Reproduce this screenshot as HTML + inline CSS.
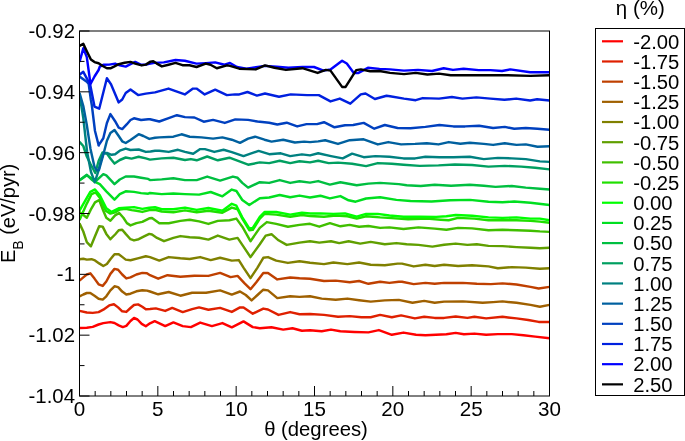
<!DOCTYPE html>
<html><head><meta charset="utf-8"><title>Binding energy vs twist angle</title>
<style>
html,body{margin:0;padding:0;background:#fff;}
svg{display:block;}
text{font-family:"Liberation Sans",Arial,Helvetica,sans-serif;fill:#000;}
.c{fill:none;stroke-width:2.45;stroke-linejoin:round;stroke-linecap:butt;}
</style></head><body>
<svg width="685" height="441" viewBox="0 0 685 441">
<rect x="0" y="0" width="685" height="441" fill="#fff"/>
<defs><clipPath id="pc"><rect x="79.5" y="31" width="470" height="365"/></clipPath></defs>
<g clip-path="url(#pc)">
<polyline class="c" stroke="#ff0000" points="79.5,328.0 86.8,327.8 92.7,326.9 98.6,324.5 103.3,323.1 110.4,322.1 114.5,323.0 118.7,325.4 122.8,327.1 126.3,325.9 130.5,321.0 134.0,318.0 137.5,319.5 141.7,323.9 145.8,326.3 150.0,323.3 154.7,321.2 165.2,326.1 173.4,322.4 182.7,326.1 190.9,327.1 200.2,322.6 211.9,326.1 222.4,323.1 231.8,327.3 243.5,321.4 252.8,327.1 259.8,328.2 271.5,327.3 283.2,329.6 292.5,328.2 301.9,330.8 310.0,330.3 321.7,331.3 331.0,329.6 340.4,331.3 354.4,332.0 368.4,332.4 378.9,330.1 391.8,334.8 403.5,332.6 416.0,334.8 425.4,335.2 446.4,334.3 455.7,332.9 463.9,334.3 474.4,333.6 486.1,334.8 497.8,334.1 511.8,334.1 523.5,335.2 535.2,336.6 549.5,338.3"/>
<polyline class="c" stroke="#df2000" points="79.5,310.9 86.8,312.5 92.7,312.9 98.6,312.1 103.3,309.7 109.2,305.4 113.9,304.2 118.1,307.4 122.2,311.3 126.3,311.9 130.5,308.0 134.0,305.0 138.1,304.4 142.3,306.8 145.8,309.2 150.0,309.0 155.8,308.4 165.2,310.9 172.2,307.9 182.7,312.1 192.1,309.1 199.1,307.4 208.4,309.8 220.1,307.9 231.8,311.9 240.0,307.4 243.5,307.4 252.8,313.7 263.3,308.6 268.0,309.5 278.5,314.9 290.2,312.1 299.5,314.2 310.0,314.0 324.0,314.9 338.0,316.8 349.7,316.1 361.4,317.2 370.7,317.2 380.1,314.9 391.8,317.2 401.1,315.4 414.9,318.4 424.2,316.8 434.7,317.9 444.1,317.9 455.7,316.5 467.4,317.9 474.4,316.8 486.1,318.4 502.5,316.8 516.5,318.4 528.2,320.0 538.7,321.9 549.5,321.9"/>
<polyline class="c" stroke="#bf4000" points="79.5,280.7 83.3,277.4 86.8,274.5 90.3,273.3 94.5,278.6 98.6,284.3 102.7,285.9 106.3,281.5 110.4,273.9 114.5,268.9 118.1,269.7 122.2,274.5 126.3,278.4 130.5,277.4 136.4,274.5 142.3,272.9 147.0,273.3 150.0,275.2 158.2,278.7 167.5,275.2 180.4,276.8 194.4,275.7 208.4,275.9 220.1,272.9 230.6,277.1 237.6,275.9 244.6,283.4 250.5,289.2 256.3,282.2 263.3,272.9 268.0,272.9 277.3,279.4 290.2,277.5 299.5,278.2 310.0,278.7 324.0,281.0 335.7,280.6 349.7,282.2 359.1,281.0 368.4,283.8 380.1,281.7 389.4,282.9 398.8,281.7 402.0,281.7 413.7,284.1 425.4,282.9 434.7,283.8 444.1,282.9 462.8,282.9 476.8,283.8 490.8,284.1 502.5,283.4 516.5,284.5 530.5,286.9 538.7,288.5 549.5,286.9"/>
<polyline class="c" stroke="#9f6000" points="79.5,296.3 83.3,294.5 86.8,293.0 90.3,293.0 94.5,295.7 98.6,298.7 102.7,299.6 106.3,296.3 110.4,290.4 114.5,286.3 118.1,287.1 122.2,291.6 126.3,294.5 130.5,293.7 136.4,291.3 142.3,290.2 147.0,290.6 150.0,291.5 158.2,294.3 168.7,292.0 180.4,295.7 192.1,292.7 206.1,292.7 220.1,290.4 231.8,294.6 240.0,291.5 245.8,295.0 251.6,300.4 257.5,295.0 263.3,289.7 268.0,290.4 277.3,298.1 290.2,296.2 299.5,296.9 310.0,296.2 321.7,298.6 335.7,299.7 347.4,298.6 359.1,300.2 370.7,301.6 384.8,300.4 398.8,299.9 412.5,302.8 424.2,300.9 434.7,302.8 444.1,301.6 462.8,301.4 482.6,302.8 493.1,302.1 502.5,301.4 516.5,302.8 530.5,304.9 539.9,306.7 549.5,304.9"/>
<polyline class="c" stroke="#808000" points="79.5,259.2 83.3,258.7 86.8,259.6 91.5,259.2 95.0,260.4 99.2,263.4 103.3,266.0 106.9,264.0 110.4,259.2 114.5,254.2 118.7,254.2 122.2,256.9 125.7,259.6 130.5,260.2 138.7,258.1 145.8,256.3 150.0,257.1 159.3,260.6 168.7,257.1 180.4,258.3 189.7,259.0 200.2,257.1 210.7,260.1 220.1,257.8 231.8,260.6 238.8,260.1 243.5,267.6 250.5,278.1 257.5,267.6 263.3,257.8 268.0,257.1 276.2,260.6 287.9,262.9 299.5,261.3 310.0,262.7 324.0,264.1 333.4,262.5 347.4,264.1 359.1,262.5 370.7,264.8 384.8,265.3 397.6,263.6 402.0,263.6 413.7,266.4 425.4,264.8 434.7,266.0 444.1,264.8 458.1,266.0 472.1,265.3 488.5,266.4 497.8,268.3 511.8,267.1 525.8,267.6 539.9,268.8 549.5,268.3"/>
<polyline class="c" stroke="#609f00" points="79.5,223.3 83.3,231.5 86.8,242.1 90.9,246.3 95.0,236.2 99.2,226.2 102.7,226.6 106.3,233.9 110.4,239.2 115.1,234.5 118.7,230.3 122.2,229.7 125.7,233.9 130.5,239.2 134.0,240.4 138.7,239.2 144.6,236.2 149.3,233.9 152.0,234.5 157.0,237.9 164.0,241.2 173.4,237.9 180.4,236.1 189.7,237.2 199.1,237.7 208.4,239.6 217.8,235.6 229.4,239.6 237.6,237.9 243.5,246.6 250.5,257.1 259.8,244.3 265.7,235.6 271.5,234.2 278.5,240.3 286.7,244.9 299.5,242.6 310.0,241.2 319.3,242.6 331.0,241.2 339.2,243.1 348.6,241.2 360.2,243.6 370.7,241.9 384.8,244.3 396.4,243.1 406.7,244.3 418.4,244.9 432.4,246.6 444.1,244.7 455.7,243.6 467.4,244.9 476.8,244.3 488.5,245.9 502.5,246.1 516.5,247.1 530.5,247.8 539.9,248.2 549.5,247.8"/>
<polyline class="c" stroke="#40bf00" points="79.5,211.9 86.8,217.8 91.5,208.3 95.0,202.4 99.2,200.0 103.3,210.7 106.3,217.8 110.4,220.7 115.1,215.4 119.2,213.0 123.4,217.8 126.9,223.1 130.5,225.4 136.4,223.1 142.3,221.9 149.3,218.3 152.0,218.0 159.3,223.2 168.7,223.2 180.4,220.9 189.7,219.7 199.1,221.4 208.4,223.9 217.8,220.9 229.4,220.2 236.4,218.6 242.3,226.7 250.5,241.2 259.8,227.9 266.8,222.1 276.2,223.9 287.9,226.7 299.5,224.9 310.0,223.8 319.3,226.7 329.9,223.2 340.4,226.3 349.7,224.9 359.1,226.7 368.4,226.0 380.1,227.9 389.4,227.4 403.5,229.0 418.4,227.4 434.7,228.6 446.4,229.8 458.1,227.9 472.1,228.4 488.5,230.2 502.5,229.8 516.5,230.2 530.5,230.7 539.9,231.4 549.5,231.9"/>
<polyline class="c" stroke="#20df00" points="79.5,220.1 86.8,203.6 91.5,194.2 95.6,192.4 99.8,197.7 105.7,210.7 110.4,213.6 115.1,212.4 119.8,209.5 125.7,208.9 131.6,210.1 136.4,210.7 142.3,211.9 149.3,210.1 155.0,209.8 161.7,211.5 173.4,212.2 185.0,210.4 196.7,212.2 208.4,210.8 222.4,212.7 231.8,207.6 237.6,209.2 242.3,218.6 249.3,230.2 252.8,229.8 259.8,218.6 264.5,213.9 276.2,214.6 290.2,216.7 301.9,215.0 310.0,216.0 324.0,216.7 335.7,215.5 347.4,216.2 356.7,218.6 366.1,216.2 380.1,217.4 391.8,218.1 408.1,219.3 426.8,218.6 440.8,219.7 448.7,220.2 458.1,217.9 474.4,218.6 488.5,220.2 502.5,220.2 516.5,220.2 530.5,220.9 539.9,221.6 549.5,222.8"/>
<polyline class="c" stroke="#00ff00" points="79.5,210.7 90.3,191.8 95.0,189.4 99.8,195.3 106.3,208.3 111.6,211.9 118.7,208.3 125.7,207.7 134.0,207.1 142.3,208.9 149.3,207.7 155.0,207.3 161.7,209.2 173.4,209.2 185.0,207.6 196.7,209.9 208.4,208.0 222.4,210.8 231.8,203.8 236.4,205.7 242.3,217.4 249.3,228.4 252.8,227.9 259.8,216.9 264.5,212.0 276.2,212.0 290.2,214.6 301.9,212.7 310.0,213.4 320.5,213.4 333.4,213.9 345.0,213.4 356.7,216.7 366.1,213.9 377.8,213.9 389.4,215.5 403.5,216.7 419.8,216.7 436.2,216.9 446.4,216.2 455.7,215.0 472.1,215.7 488.5,217.4 502.5,217.9 516.5,217.4 530.5,218.6 539.9,218.6 549.5,220.2"/>
<polyline class="c" stroke="#00df20" points="79.5,180.5 86.8,175.2 91.0,178.0 95.0,181.9 99.8,184.2 106.3,191.3 114.5,199.6 119.8,194.2 125.7,191.3 134.0,191.9 141.1,193.1 148.2,193.7 150.0,193.0 161.7,194.1 173.4,193.5 185.0,194.1 199.1,194.6 210.7,192.0 222.4,196.3 231.8,189.6 236.4,191.0 242.3,200.0 249.3,205.0 259.8,198.2 269.2,197.5 279.7,195.0 290.2,197.3 299.5,195.6 310.0,197.5 320.5,195.8 329.9,198.4 340.4,196.1 348.6,200.3 355.6,201.7 366.1,198.5 380.1,197.3 396.4,199.9 410.5,201.0 431.5,201.5 450.2,200.3 470.0,199.9 488.5,201.7 502.5,202.2 514.2,201.5 530.5,202.7 549.5,205.0"/>
<polyline class="c" stroke="#00bf40" points="79.5,180.1 86.8,174.8 91.5,179.5 95.0,181.9 103.3,174.2 106.3,175.4 114.5,184.2 119.8,179.5 125.7,176.5 134.0,176.5 141.1,177.7 148.2,178.9 150.0,180.1 161.7,179.4 173.4,178.3 185.0,180.1 196.7,180.1 207.2,176.6 220.1,180.6 232.9,176.6 237.6,177.8 242.3,182.9 248.1,187.6 259.8,182.2 269.2,182.9 279.7,180.1 290.2,182.9 299.5,181.3 310.0,182.6 318.2,181.1 329.9,184.6 340.4,182.2 356.7,185.3 368.4,183.6 380.1,182.9 398.8,184.1 406.7,185.3 420.7,186.0 434.7,184.8 451.1,185.7 469.8,184.8 483.8,185.7 495.5,186.9 511.8,186.0 525.8,187.6 539.9,188.8 549.5,189.5"/>
<polyline class="c" stroke="#009f60" points="79.5,141.9 83.3,146.0 86.8,156.5 90.5,164.0 95.3,173.0 98.6,161.0 102.5,152.5 106.9,153.5 110.4,158.5 114.5,163.6 119.8,160.0 125.7,157.5 131.6,158.6 138.7,156.8 145.8,158.4 150.0,159.6 161.7,158.4 173.4,157.7 185.0,160.0 190.9,159.1 196.7,160.3 207.2,156.5 217.8,160.3 229.4,157.7 238.8,161.2 248.1,164.7 259.8,162.4 269.2,163.1 279.7,160.7 290.2,163.1 299.5,161.2 310.0,162.4 318.2,160.7 328.7,163.1 338.0,162.6 352.1,163.8 366.1,166.1 377.8,163.1 391.8,163.8 403.5,164.7 419.8,165.9 438.5,165.4 454.9,164.5 472.1,165.0 488.5,166.6 504.8,165.9 521.2,166.6 535.2,167.8 549.5,169.4"/>
<polyline class="c" stroke="#008080" points="79.5,94.5 83.3,118.0 87.1,152.0 91.0,172.0 94.8,182.2 98.4,171.0 100.5,162.0 103.3,153.5 106.9,153.0 111.6,154.8 115.1,154.2 119.8,150.7 125.7,148.6 130.5,150.0 138.7,149.5 145.8,151.9 150.5,151.5 155.0,150.7 159.3,150.7 168.7,151.9 178.0,149.8 185.0,151.9 193.2,153.7 200.2,149.1 204.9,149.1 214.3,151.9 223.6,149.8 231.8,152.1 243.5,156.1 250.5,153.7 258.6,150.9 269.2,154.2 280.8,153.3 290.2,156.1 301.9,154.4 310.0,155.4 318.2,153.3 331.0,156.1 342.7,158.4 352.1,153.7 363.7,157.2 375.4,156.1 389.4,156.8 403.5,158.4 415.1,158.4 425.4,156.8 439.4,157.2 453.4,157.2 469.8,156.8 483.8,159.1 497.8,157.9 511.8,158.4 525.8,159.1 539.9,161.4 549.5,161.9"/>
<polyline class="c" stroke="#00609f" points="79.5,92.8 83.3,106.0 86.8,125.0 90.5,149.0 94.5,167.0 97.0,170.3 99.0,170.0 102.7,157.0 106.9,140.7 110.4,133.0 114.5,130.0 118.7,136.0 122.2,141.3 125.7,143.0 130.5,140.0 138.7,134.2 143.4,136.0 149.3,138.9 155.0,137.7 159.3,137.4 173.4,136.7 181.5,134.3 189.7,136.7 201.4,137.4 213.1,138.6 222.4,137.4 231.8,139.7 240.0,142.8 248.1,138.6 255.1,136.7 264.5,139.7 271.5,141.6 283.2,139.7 294.9,142.5 304.2,141.6 310.0,142.1 318.2,141.4 325.2,140.2 338.0,143.9 349.7,140.2 363.7,139.3 377.8,144.4 388.3,142.1 401.1,144.4 415.1,143.9 426.8,143.2 438.5,144.4 448.7,142.1 460.4,143.7 469.8,142.8 483.8,143.9 493.1,144.9 504.8,143.2 516.5,144.9 525.8,144.4 537.5,146.7 549.5,146.3"/>
<polyline class="c" stroke="#0040bf" points="79.5,76.5 86.8,81.8 88.7,84.0 90.9,100.0 91.8,105.0 95.0,131.0 98.7,145.5 98.6,145.4 103.3,138.3 106.9,123.0 110.4,114.1 115.1,121.2 118.7,127.7 122.2,129.1 126.9,124.2 130.5,120.0 134.0,118.3 141.1,120.0 148.2,119.2 150.0,119.2 159.3,121.5 168.7,118.2 176.9,115.2 185.0,117.1 194.4,117.5 203.7,121.7 213.1,119.9 224.8,122.9 235.3,119.4 248.1,119.9 257.5,121.5 269.2,122.7 277.3,124.5 286.7,122.7 297.2,126.4 306.5,124.1 310.0,124.1 317.0,124.1 324.0,122.2 334.5,127.3 345.0,125.2 353.2,125.0 363.7,122.9 374.3,128.7 384.8,125.0 397.6,128.0 410.5,128.3 425.4,126.9 439.4,125.0 453.4,126.4 465.1,126.4 479.1,125.7 493.1,128.0 504.8,126.9 514.2,128.7 525.8,128.0 537.5,128.7 549.5,129.7"/>
<polyline class="c" stroke="#0020df" points="79.5,74.7 83.3,71.8 86.8,78.3 90.3,85.3 94.5,106.6 99.2,108.7 106.9,78.3 111.0,84.2 118.7,102.4 122.2,99.5 125.7,93.0 130.5,89.5 138.1,95.1 145.8,93.6 155.0,92.4 168.5,88.6 184.8,94.4 193.0,88.6 196.5,88.6 204.7,94.4 215.2,89.7 226.9,95.1 235.0,94.4 239.3,94.4 247.5,92.0 256.9,95.6 265.0,93.5 279.0,96.7 290.7,94.4 307.1,95.1 318.8,95.1 330.5,101.4 339.8,98.6 350.3,103.7 360.8,94.4 365.5,93.5 374.9,99.0 386.5,95.8 390.0,96.3 404.0,98.6 415.7,100.2 422.7,98.1 439.0,98.6 451.9,97.0 462.4,98.6 476.4,97.4 490.4,98.6 504.4,99.8 516.1,98.6 530.1,100.5 537.1,99.3 549.5,100.5"/>
<polyline class="c" stroke="#0000ff" points="79.5,61.9 83.3,48.3 86.8,57.1 90.5,84.0 94.5,76.5 98.6,70.0 99.8,66.6 103.3,64.8 109.2,64.6 115.1,63.6 119.8,65.4 125.7,66.6 130.5,64.2 135.2,61.9 141.1,64.8 145.8,64.6 150.5,63.6 154.4,62.9 163.8,62.4 175.5,60.0 184.8,60.7 196.5,63.6 205.8,63.1 215.2,62.4 224.5,64.7 230.0,63.0 237.0,67.0 246.4,68.7 265.0,65.9 276.7,66.6 288.4,67.8 302.4,67.0 314.0,67.0 323.5,70.6 330.5,69.4 342.1,60.7 346.8,63.5 353.8,72.9 358.5,72.9 367.9,67.8 379.5,68.9 390.0,69.4 404.0,70.6 418.0,69.9 432.0,71.0 443.7,68.2 453.0,69.9 463.6,68.7 478.7,70.1 490.4,70.1 502.0,71.0 510.3,69.4 530.1,72.2 549.5,72.2"/>
<polyline class="c" stroke="#000000" points="79.5,45.9 83.3,43.9 86.8,51.2 90.9,59.5 94.5,62.1 98.6,63.3 102.7,66.0 106.9,68.3 110.4,68.3 114.5,66.3 118.7,64.2 124.6,62.8 130.5,61.9 135.2,63.6 141.7,65.4 145.8,64.6 150.5,61.6 153.3,61.2 156.8,63.6 161.9,66.4 168.5,64.7 175.5,62.9 182.5,65.2 189.5,65.2 196.5,67.0 205.8,63.6 210.5,64.7 216.8,68.2 226.9,65.4 230.0,65.9 239.3,68.7 255.7,69.4 265.0,65.4 274.4,67.8 286.0,69.9 302.4,68.2 317.6,72.9 325.8,69.9 330.5,70.6 342.1,86.9 345.6,86.9 356.2,70.1 360.8,69.4 370.2,71.3 379.5,71.0 390.0,72.9 404.0,74.1 415.7,72.9 427.4,74.5 439.0,73.6 450.7,75.2 483.4,75.2 506.8,75.2 530.1,75.9 549.5,75.2"/>
</g>
<rect x="79.5" y="31" width="470" height="365" fill="none" stroke="#000" stroke-width="1"/>
<path d="M79.50 396 V386 M95.17 396 V391 M110.83 396 V391 M126.50 396 V391 M142.17 396 V391 M157.83 396 V386 M173.50 396 V391 M189.17 396 V391 M204.83 396 V391 M220.50 396 V391 M236.17 396 V386 M251.83 396 V391 M267.50 396 V391 M283.17 396 V391 M298.83 396 V391 M314.50 396 V386 M330.17 396 V391 M345.83 396 V391 M361.50 396 V391 M377.17 396 V391 M392.83 396 V386 M408.50 396 V391 M424.17 396 V391 M439.83 396 V391 M455.50 396 V391 M471.17 396 V386 M486.83 396 V391 M502.50 396 V391 M518.17 396 V391 M533.83 396 V391 M549.50 396 V386 M79.5 31.00 H89.5 M79.5 61.42 H84.5 M79.5 91.83 H89.5 M79.5 122.25 H84.5 M79.5 152.67 H89.5 M79.5 183.08 H84.5 M79.5 213.50 H89.5 M79.5 243.92 H84.5 M79.5 274.33 H89.5 M79.5 304.75 H84.5 M79.5 335.17 H89.5 M79.5 365.58 H84.5 M79.5 396.00 H89.5" stroke="#000" stroke-width="1" fill="none"/>
<text x="75" y="38.1" font-size="20.4" text-anchor="end">-0.92</text>
<text x="75" y="98.9" font-size="20.4" text-anchor="end">-0.94</text>
<text x="75" y="159.8" font-size="20.4" text-anchor="end">-0.96</text>
<text x="75" y="220.6" font-size="20.4" text-anchor="end">-0.98</text>
<text x="75" y="281.4" font-size="20.4" text-anchor="end">-1</text>
<text x="75" y="342.3" font-size="20.4" text-anchor="end">-1.02</text>
<text x="75" y="403.1" font-size="20.4" text-anchor="end">-1.04</text>
<text x="79.5" y="415.5" font-size="20.6" text-anchor="middle">0</text>
<text x="157.8" y="415.5" font-size="20.6" text-anchor="middle">5</text>
<text x="236.2" y="415.5" font-size="20.6" text-anchor="middle">10</text>
<text x="314.5" y="415.5" font-size="20.6" text-anchor="middle">15</text>
<text x="392.8" y="415.5" font-size="20.6" text-anchor="middle">20</text>
<text x="471.2" y="415.5" font-size="20.6" text-anchor="middle">25</text>
<text x="549.5" y="415.5" font-size="20.6" text-anchor="middle">30</text>
<text x="316" y="436.1" font-size="20.3" text-anchor="middle">θ (degrees)</text>
<text transform="translate(15.2,213.4) rotate(-90)" font-size="20" text-anchor="middle">E<tspan font-size="14" dy="7.6">B</tspan><tspan dy="-7.6"> (eV/pyr)</tspan></text>
<text x="640.3" y="15.2" font-size="20.5" text-anchor="middle">η (%)</text>
<rect x="595.5" y="28.5" width="89" height="367" fill="#fff" stroke="#000" stroke-width="1"/>
<line x1="602" y1="41.30" x2="623" y2="41.30" stroke="#ff0000" stroke-width="2.2"/>
<text x="633.2" y="48.60" font-size="20.25">-2.00</text>
<line x1="602" y1="61.48" x2="623" y2="61.48" stroke="#df2000" stroke-width="2.2"/>
<text x="633.2" y="68.78" font-size="20.25">-1.75</text>
<line x1="602" y1="81.66" x2="623" y2="81.66" stroke="#bf4000" stroke-width="2.2"/>
<text x="633.2" y="88.96" font-size="20.25">-1.50</text>
<line x1="602" y1="101.84" x2="623" y2="101.84" stroke="#9f6000" stroke-width="2.2"/>
<text x="633.2" y="109.14" font-size="20.25">-1.25</text>
<line x1="602" y1="122.02" x2="623" y2="122.02" stroke="#808000" stroke-width="2.2"/>
<text x="633.2" y="129.32" font-size="20.25">-1.00</text>
<line x1="602" y1="142.20" x2="623" y2="142.20" stroke="#609f00" stroke-width="2.2"/>
<text x="633.2" y="149.50" font-size="20.25">-0.75</text>
<line x1="602" y1="162.38" x2="623" y2="162.38" stroke="#40bf00" stroke-width="2.2"/>
<text x="633.2" y="169.68" font-size="20.25">-0.50</text>
<line x1="602" y1="182.56" x2="623" y2="182.56" stroke="#20df00" stroke-width="2.2"/>
<text x="633.2" y="189.86" font-size="20.25">-0.25</text>
<line x1="602" y1="202.74" x2="623" y2="202.74" stroke="#00ff00" stroke-width="2.2"/>
<text x="633.2" y="210.04" font-size="20.25">0.00</text>
<line x1="602" y1="222.92" x2="623" y2="222.92" stroke="#00df20" stroke-width="2.2"/>
<text x="633.2" y="230.22" font-size="20.25">0.25</text>
<line x1="602" y1="243.10" x2="623" y2="243.10" stroke="#00bf40" stroke-width="2.2"/>
<text x="633.2" y="250.40" font-size="20.25">0.50</text>
<line x1="602" y1="263.28" x2="623" y2="263.28" stroke="#009f60" stroke-width="2.2"/>
<text x="633.2" y="270.58" font-size="20.25">0.75</text>
<line x1="602" y1="283.46" x2="623" y2="283.46" stroke="#008080" stroke-width="2.2"/>
<text x="633.2" y="290.76" font-size="20.25">1.00</text>
<line x1="602" y1="303.64" x2="623" y2="303.64" stroke="#00609f" stroke-width="2.2"/>
<text x="633.2" y="310.94" font-size="20.25">1.25</text>
<line x1="602" y1="323.82" x2="623" y2="323.82" stroke="#0040bf" stroke-width="2.2"/>
<text x="633.2" y="331.12" font-size="20.25">1.50</text>
<line x1="602" y1="344.00" x2="623" y2="344.00" stroke="#0020df" stroke-width="2.2"/>
<text x="633.2" y="351.30" font-size="20.25">1.75</text>
<line x1="602" y1="364.18" x2="623" y2="364.18" stroke="#0000ff" stroke-width="2.2"/>
<text x="633.2" y="371.48" font-size="20.25">2.00</text>
<line x1="602" y1="384.36" x2="623" y2="384.36" stroke="#000000" stroke-width="2.2"/>
<text x="633.2" y="391.66" font-size="20.25">2.50</text>
</svg>
</body></html>
